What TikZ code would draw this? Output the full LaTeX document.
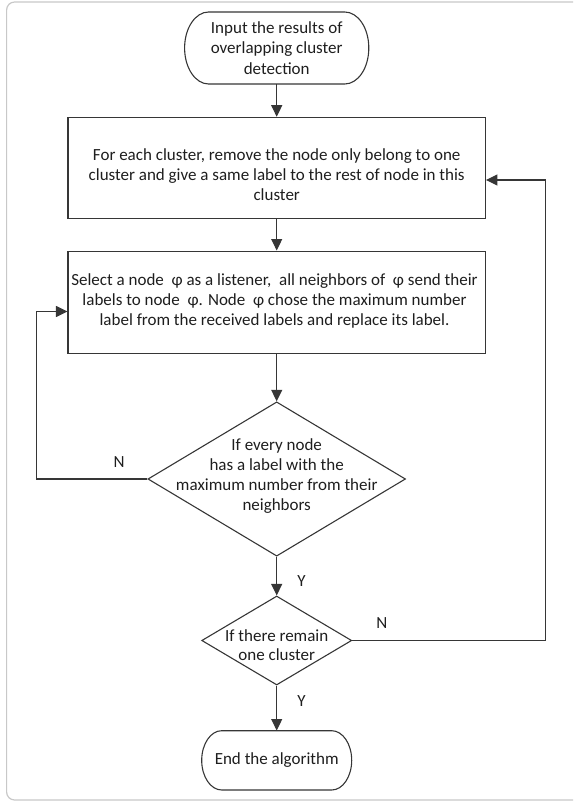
\documentclass[tikz,border=0pt]{standalone}
\usepackage{fontspec}
\setmainfont{Carlito}
\usetikzlibrary{shapes.geometric,arrows.meta}
\definecolor{ln}{HTML}{363636}
\definecolor{tx}{HTML}{1E1E1E}
\definecolor{fr}{HTML}{C8C8C8}
\begin{document}
\begin{tikzpicture}[x=1pt,y=-1pt,
  lnk/.style={draw=ln, line width=1.1pt, -{Triangle[length=11.5pt,width=11pt]}},
  outline/.style={draw=ln, line width=1.1pt},
  boxnode/.style={outline, minimum width=417.4pt, minimum height=101pt, inner sep=0pt},
  dia/.style={diamond, outline, inner sep=0pt},
  txt/.style={text=tx, font=\fontsize{17}{20}\selectfont, align=center, inner sep=0pt},
  lbl/.style={text=tx, font=\fontsize{17}{20}\selectfont, inner sep=0pt},
  term/.style={text=tx, font=\fontsize{17}{20.7}\selectfont, align=center, inner sep=0pt}
]
\useasboundingbox (0,0) rectangle (573,802);
\begin{scope}
  \clip (0,0) rectangle (573,802);
  \draw[fr, line width=1.2pt, rounded corners=8pt] (6.6,2) rectangle (600,800);
\end{scope}

% start terminal
\node[term, minimum width=184.2pt, minimum height=72pt] (start) at (276.7,48)
  {Input the results of\\overlapping cluster\\detection};
\draw[outline] (208.6,12) -- (344.8,12)
  .. controls (358.05,12) and (368.8,28.1) .. (368.8,48)
  .. controls (368.8,67.9) and (358.05,84) .. (344.8,84)
  -- (208.6,84)
  .. controls (195.35,84) and (184.6,67.9) .. (184.6,48)
  .. controls (184.6,28.1) and (195.35,12) .. (208.6,12) -- cycle;

% box 1
\node[boxnode] (b1) at (276.7,167.8) {};
\node[txt, text depth=0pt] (t1) at (276.7,175)
  {For each cluster, remove the node only belong to one\\cluster and give a same label to the rest of node in this\\cluster};

% box 2
\node[boxnode, minimum height=102.3pt] (b2) at (276.7,302.2) {};
\node[txt, font=\fontsize{17}{19.7}\selectfont] (t2) at (274.5,301)
  {Select a node~ φ as a listener,~ all neighbors of~ φ send their\\labels to node~ φ. Node~ φ chose the maximum number\\label from the received labels and replace its label.};

% decision 1
\node[dia, minimum width=257.6pt, minimum height=154.3pt] (d1) at (276.7,479) {};
\node[txt] (t3) at (276.7,476.3)
  {If every node\\has a label with the\\maximum number from their\\neighbors};

% decision 2
\node[dia, minimum width=150pt, minimum height=89pt] (d2) at (276.7,640.5) {};
\node[txt, font=\fontsize{17}{19}\selectfont] (t4) at (276.7,645.5)
  {If there remain\\one cluster};

% end terminal
\node[term, minimum width=150pt, minimum height=59.3pt] (end) at (276.7,760.35)
  {End the algorithm};
\draw[outline] (221.7,730.7) -- (331.7,730.7)
  .. controls (342.74,730.7) and (351.7,743.98) .. (351.7,760.35)
  .. controls (351.7,776.72) and (342.74,790) .. (331.7,790)
  -- (221.7,790)
  .. controls (210.66,790) and (201.7,776.72) .. (201.7,760.35)
  .. controls (201.7,743.98) and (210.66,730.7) .. (221.7,730.7) -- cycle;

% main flow
\draw[lnk] (start) -- (b1);
\draw[lnk] (b1) -- (b2);
\draw[lnk] (b2) -- (d1);
\draw[lnk] (d1) -- (d2);
\draw[lnk] (d2) -- (end);

% loops
\coordinate (lc) at (36.5,311.5);
\draw[lnk] (d1.west) -| (lc) -- (lc -| b2.west);
\coordinate (rc) at (545.6,180);
\draw[lnk] (d2.east) -| (rc) -- (rc -| b1.east);

% labels
\node[lbl] (n1) at (119,461.7) {N};
\node[lbl] (y1) at (301.5,581.5) {Y};
\node[lbl] (n2) at (381.9,623.3) {N};
\node[lbl] (y2) at (301.5,700.7) {Y};
\end{tikzpicture}
\end{document}
